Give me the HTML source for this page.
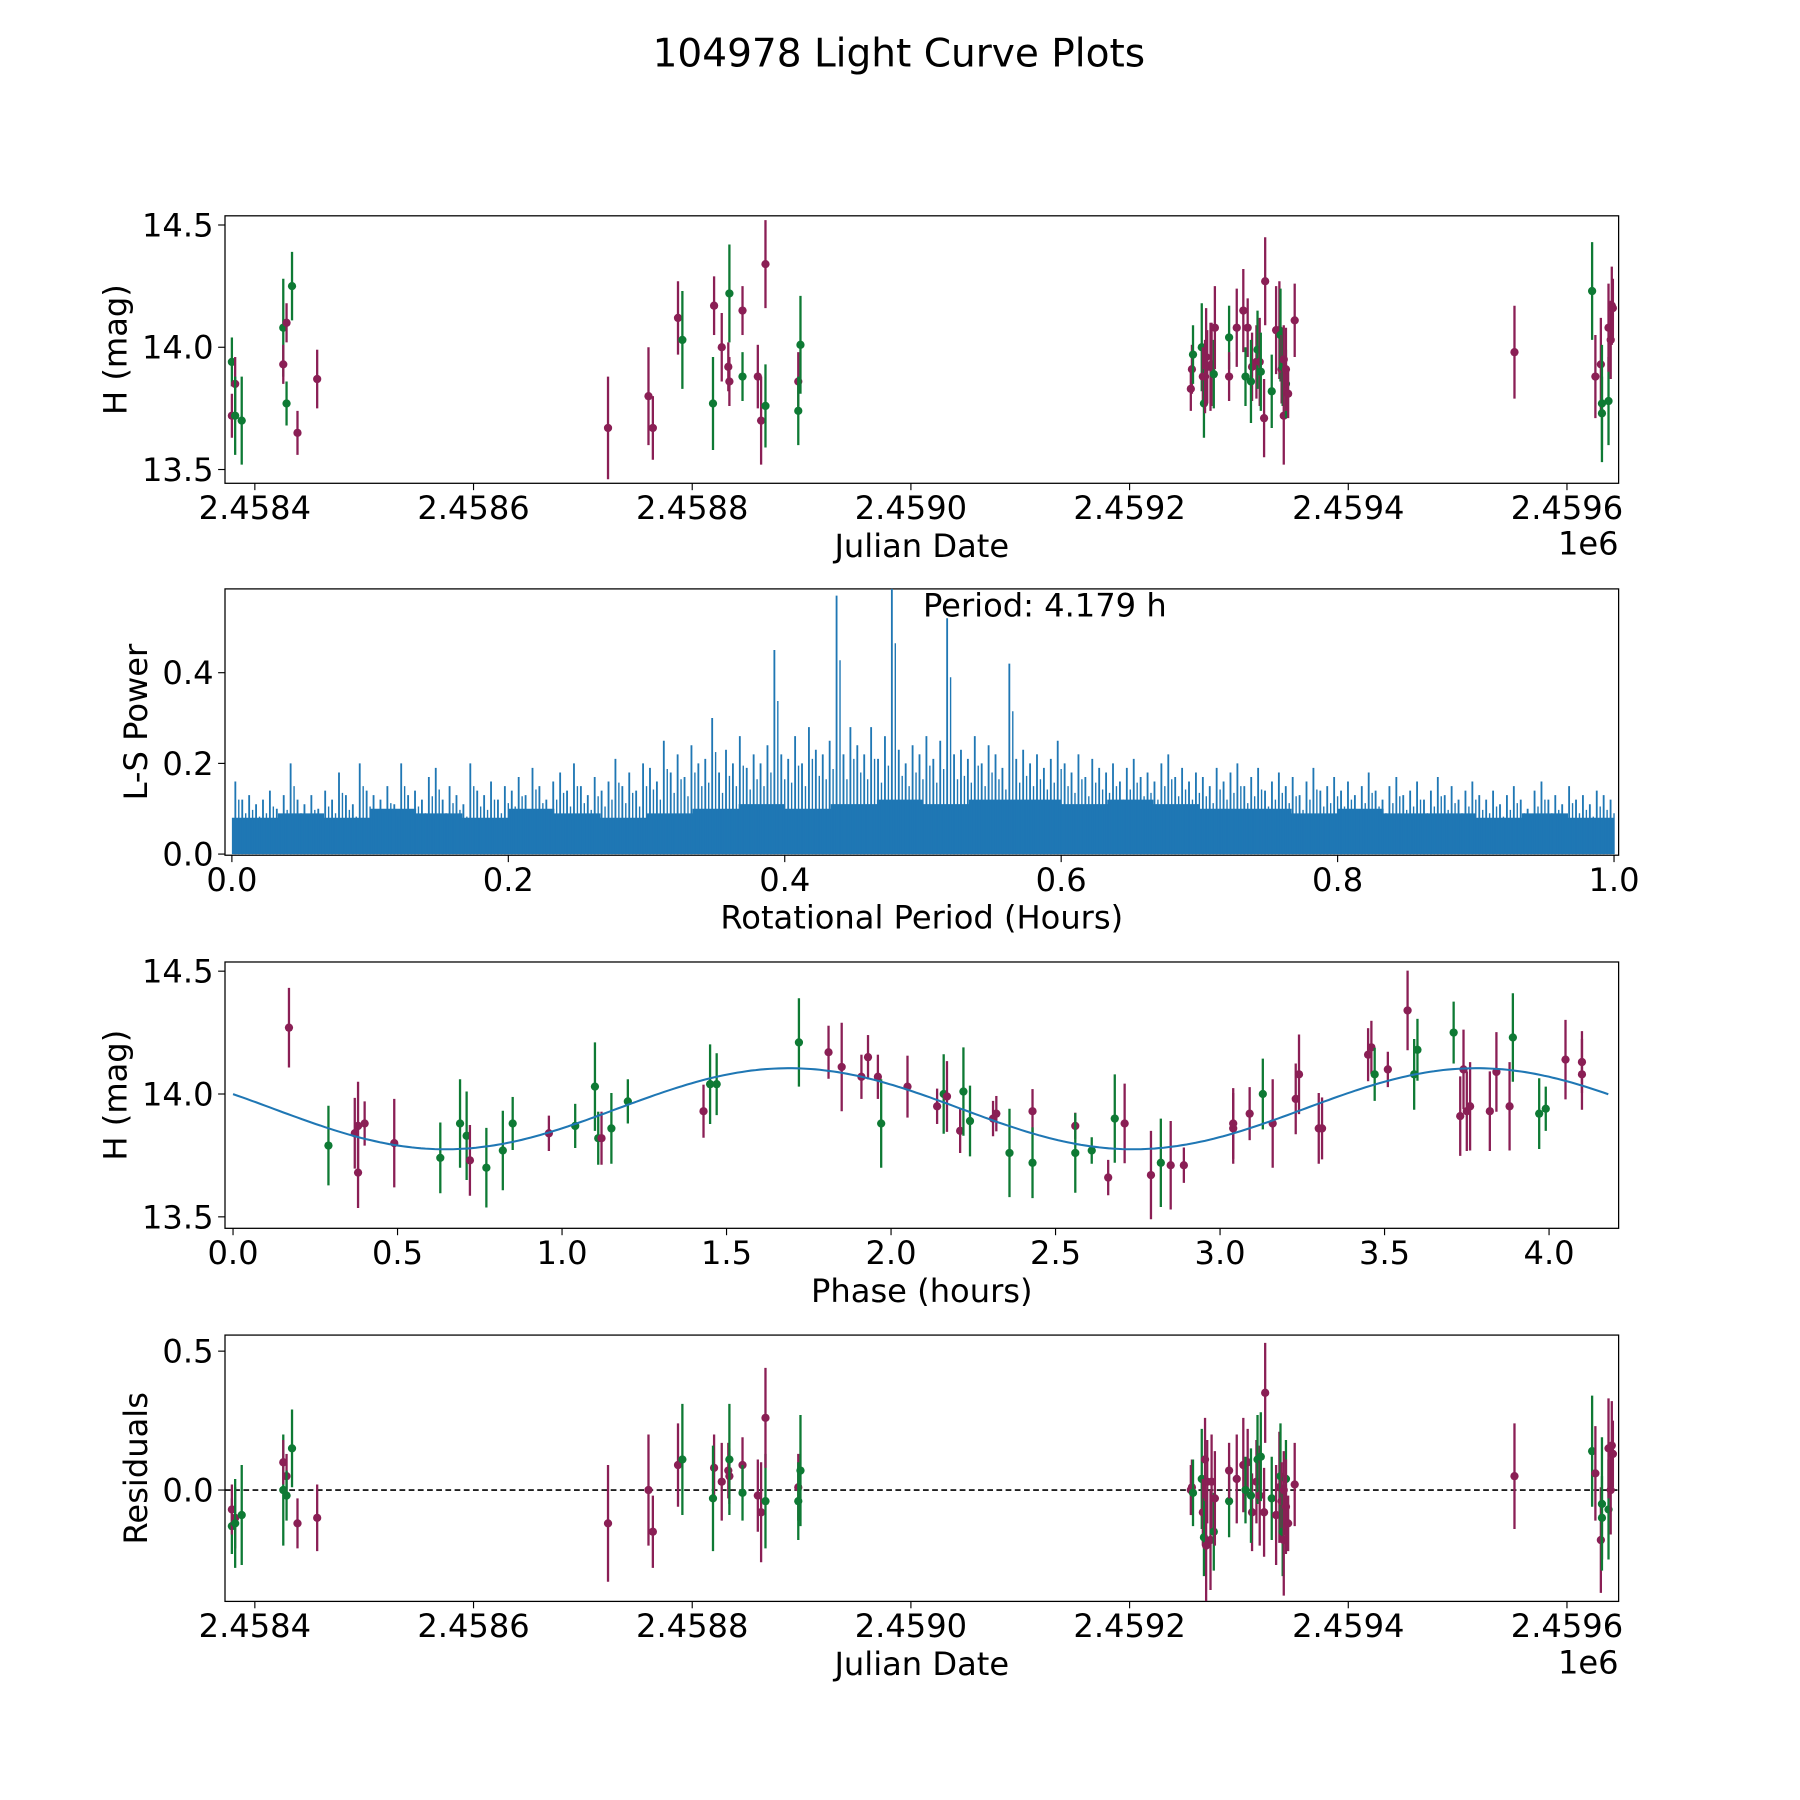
<!DOCTYPE html>
<html><head><meta charset="utf-8"><style>
html,body{margin:0;padding:0;background:#fff}
svg{display:block}
text{font-family:"DejaVu Sans","Liberation Sans",sans-serif;fill:#000}
</style></head><body>
<svg id="fig" width="1800" height="1800" viewBox="0 0 1568 1568" xmlns="http://www.w3.org/2000/svg">
<rect width="1568" height="1568" fill="#fff"/>
<text x="783" y="58" font-size="34" text-anchor="middle">104978 Light Curve Plots</text>
<g id="p1"></g>
<g id="p2"></g>
<g id="p3"></g>
<g id="p4"></g>
</svg>
<script>
// ---- light curve data (JD - 2458000) ----
const jd = [379,379,382,382,388,426,426,429,429,434,439,457,723,760,764,787,791,820,819,827,833,834,834,846,846,860,863,867,867,897,897,899,
1256,1257,1258,1266,1267,1268,1269,1270,1271,1274,1275,1277,1278,1291,1291,1298,1304,1308,1306,1312,1311,1316,1317,1319,1320,1323,1324,1330,1334,1337,1338,1339,1340,1341,1343,1343,1345,1351,1341,
1552,1623,1626,1631,1632,1632,1638,1638,1640,1641,1642];
const mag = [13.94,13.72,13.85,13.72,13.70,14.08,13.93,14.10,13.77,14.25,13.65,13.87,13.67,13.80,13.67,14.12,14.03,14.17,13.77,14.00,13.92,13.86,14.22,14.15,13.88,13.88,13.70,13.76,14.34,13.86,13.74,14.01,
13.83,13.91,13.97,14.00,13.88,13.77,13.88,13.96,13.92,13.92,13.93,13.89,14.08,14.04,13.88,14.08,14.15,14.08,13.88,13.92,13.86,13.94,13.99,13.94,13.90,13.71,14.27,13.82,14.07,14.07,14.05,13.91,13.92,13.72,13.85,13.91,13.81,14.11,13.95,
13.98,14.23,13.88,13.93,13.77,13.73,13.78,14.08,14.03,14.17,14.16];
const magErr = [0.10,0.09,0.11,0.16,0.18,0.20,0.08,0.08,0.09,0.14,0.09,0.12,0.21,0.20,0.13,0.15,0.20,0.12,0.19,0.14,0.10,0.10,0.20,0.10,0.10,0.13,0.18,0.17,0.18,0.12,0.14,0.20,
0.09,0.10,0.12,0.18,0.12,0.14,0.15,0.20,0.15,0.18,0.17,0.14,0.17,0.13,0.10,0.16,0.17,0.12,0.12,0.14,0.17,0.15,0.16,0.18,0.16,0.16,0.18,0.15,0.18,0.20,0.19,0.14,0.16,0.20,0.14,0.17,0.10,0.15,0.14,
0.19,0.20,0.17,0.19,0.24,0.15,0.18,0.18,0.16,0.16,0.12];
const filt = ['g','m','m','g','g','g','m','m','g','g','m','m','m','m','m','m','g','m','g','m','m','m','g','m','g','m','m','g','m','m','g','g',
'm','m','g','g','m','g','m','m','m','m','m','g','m','g','m','m','m','m','g','m','g','m','g','m','g','m','m','g','m','m','g','m','g','m','g','m','m','m','m',
'm','g','m','m','g','g','g','m','m','m','m'];
const resid = [-0.13,-0.07,-0.10,-0.12,-0.09,0.00,0.10,0.05,-0.02,0.15,-0.12,-0.10,-0.12,0.00,-0.15,0.09,0.11,0.08,-0.03,0.03,0.07,0.05,0.11,0.09,-0.01,-0.02,-0.08,-0.04,0.26,0.01,-0.04,0.07,
0.00,0.01,-0.01,0.04,-0.08,-0.17,0.11,-0.20,0.03,-0.18,0.03,-0.15,-0.03,-0.04,0.07,0.04,0.09,0.10,0.00,-0.08,-0.02,0.03,0.11,-0.02,0.12,-0.08,0.35,-0.03,-0.09,0.01,0.05,-0.04,-0.15,-0.18,0.04,-0.06,-0.12,0.02,0.00,
0.05,0.14,0.06,-0.18,-0.05,-0.10,-0.07,0.15,0.00,0.16,0.13];
// ---- periodogram ----
const power = [.16,.12,.13,.11,.12,.14,.10,.13,.20,.12,.11,.13,.10,.14,.12,.18,.13,.11,.20,.14,
.13,.12,.15,.11,.20,.13,.14,.12,.17,.19,.12,.15,.13,.11,.20,.14,.13,.16,.12,.15,
.14,.17,.13,.19,.15,.12,.16,.18,.14,.20,.15,.13,.17,.14,.16,.21,.15,.18,.14,.20,
.19,.16,.25,.18,.22,.17,.24,.20,.21,.30,.18,.23,.20,.26,.19,.22,.20,.24,.45,.22,
.21,.26,.20,.28,.23,.22,.25,.57,.22,.28,.24,.22,.28,.21,.26,.62,.23,.20,.24,.22,
.26,.21,.25,.52,.22,.23,.21,.26,.20,.24,.22,.19,.42,.21,.23,.20,.22,.19,.21,.25,
.20,.18,.22,.17,.21,.19,.18,.20,.16,.19,.21,.17,.18,.16,.20,.22,.17,.19,.16,.18,
.17,.15,.19,.16,.18,.20,.15,.17,.19,.14,.16,.18,.15,.17,.13,.16,.19,.14,.15,.17,
.14,.16,.13,.15,.18,.14,.12,.15,.17,.13,.14,.16,.12,.14,.17,.13,.15,.12,.14,.16,
.13,.12,.14,.11,.13,.15,.12,.10,.14,.16,.12,.13,.11,.15,.12,.13,.11,.14,.13,.12];
const powerFloor = [.08,.09,.08,.10,.09,.08,.10,.09,.08,.09,.10,.11,.10,.11,.12,.11,.12,.12,.11,.12,.11,.10,.10,.09,.10,.09,.09,.08,.09,.08];
const periodLabel = "Period: 4.179 h";
// ---- phase fold ----
const phase = [0.17,0.29,0.37,0.38,0.38,0.40,0.49,0.63,0.69,0.71,0.72,0.77,0.82,0.85,0.96,1.04,1.10,1.11,1.12,1.15,1.20,1.43,1.45,1.47,1.72,1.81,1.85,1.91,1.93,1.96,1.97,2.05,2.14,2.16,2.17,2.21,2.22,2.24,2.31,2.32,2.36,2.43,2.43,2.56,2.56,2.61,2.66,2.68,2.71,2.79,2.82,2.85,2.89,3.04,3.04,3.09,3.13,3.16,3.23,3.24,3.30,3.31,3.45,3.46,3.47,3.51,3.57,3.59,3.60,3.71,3.73,3.74,3.75,3.76,3.82,3.84,3.88,3.89,3.97,3.99,4.05,4.10,4.10];
const phaseMag = [14.27,13.79,13.84,13.87,13.68,13.88,13.80,13.74,13.88,13.83,13.73,13.70,13.77,13.88,13.84,13.87,14.03,13.82,13.82,13.86,13.97,13.93,14.04,14.04,14.21,14.17,14.11,14.07,14.15,14.07,13.88,14.03,13.95,14.00,13.99,13.85,14.01,13.89,13.90,13.92,13.76,13.93,13.72,13.87,13.76,13.77,13.66,13.90,13.88,13.67,13.72,13.71,13.71,13.86,13.88,13.92,14.00,13.88,13.98,14.08,13.86,13.86,14.16,14.19,14.08,14.10,14.34,14.08,14.18,14.25,13.91,14.10,13.93,13.95,13.93,14.09,13.95,14.23,13.92,13.94,14.14,14.08,14.13];
const phaseErr = [0.09,0.09,0.08,0.10,0.08,0.05,0.10,0.08,0.10,0.10,0.08,0.09,0.09,0.06,0.04,0.05,0.10,0.06,0.06,0.08,0.05,0.06,0.09,0.07,0.10,0.06,0.10,0.05,0.05,0.05,0.10,0.07,0.04,0.09,0.08,0.05,0.10,0.08,0.04,0.04,0.10,0.05,0.08,0.03,0.09,0.03,0.04,0.10,0.09,0.10,0.10,0.10,0.04,0.08,0.08,0.06,0.08,0.10,0.08,0.09,0.08,0.07,0.06,0.06,0.06,0.04,0.09,0.08,0.07,0.07,0.09,0.09,0.09,0.10,0.09,0.09,0.10,0.10,0.08,0.05,0.09,0.08,0.07].map(v=>v*1.8);
const phaseFilt = ['m','g','m','m','m','m','m','g','g','g','m','g','g','g','m','g','g','g','m','g','g','m','g','g','g','m','m','m','m','m','g','m','m','g','m','m','g','g','m','m','g','m','g','m','g','g','m','g','m','m','g','m','m','m','m','m','g','m','m','m','m','m','m','m','g','m','m','g','g','g','m','m','m','m','m','m','m','g','g','g','m','m','m'];
const modelParams = [13.94, 0.165, 1.69, 2.0895]; // mean, amplitude, peak phase, half-period
const jdTicks = [400,600,800,1000,1200,1400,1600];
const jdTickLabels = ["2.4584","2.4586","2.4588","2.4590","2.4592","2.4594","2.4596"];
const magTicks = [13.5,14.0,14.5];
const powTicks = [0.0,0.2,0.4];
const perTicks = [0,0.2,0.4,0.6,0.8,1.0];
const phaseTicks = [0,0.5,1,1.5,2,2.5,3,3.5,4];
const resTicks = [0.0,0.5];

const NS="http://www.w3.org/2000/svg";
const COL={m:'#8a1f55',g:'#0e7a34'};
const FS=28;
function mk(parent,tag,attrs){const e=document.createElementNS(NS,tag);for(const k in attrs)e.setAttribute(k,attrs[k]);parent.appendChild(e);return e;}
function lin(d0,d1,r0,r1){return v=>r0+(v-d0)*(r1-r0)/(d1-d0);}
const L=196,R=1410;
function frame(g,top,bot,xs,ys,xt,xtl,yt,ytl,xlabel,ylabel,ylx){
  const f=mk(g,'rect',{x:L,y:top,width:R-L,height:bot-top,fill:'none',stroke:'#000','stroke-width':1.1});
  
  
  xt.forEach((v,i)=>{const x=xs(v);
    const t=mk(g,'line',{x1:x,x2:x,y1:bot,y2:bot+6,stroke:'#000','stroke-width':1});
    
    
    const tx=mk(g,'text',{x:x,y:bot+31,'font-size':FS,'text-anchor':'middle'});tx.textContent=xtl[i];
    
    });
  yt.forEach((v,i)=>{const y=ys(v);
    const t=mk(g,'line',{x1:L-6,x2:L,y1:y,y2:y,stroke:'#000','stroke-width':1});
    
    
    const tx=mk(g,'text',{x:L-10,y:y+10,'font-size':FS,'text-anchor':'end'});tx.textContent=ytl[i];
    
    });
  const xl=mk(g,'text',{x:(L+R)/2,y:bot+64,'font-size':FS,'text-anchor':'middle'});xl.textContent=xlabel;
  
  
  const cy=(top+bot)/2;
  const yl=mk(g,'text',{x:ylx,y:cy,'font-size':FS,'text-anchor':'middle',transform:`rotate(-90 ${ylx} ${cy})`});yl.textContent=ylabel;
  
  
}
function errpts(g,xs,ys,xa,ya,ea,fa,top,bot){
  const cp='c'+Math.round(top);
  const cl=mk(g,'clipPath',{id:cp});mk(cl,'rect',{x:L,y:top,width:R-L,height:bot-top});
  const gg=mk(g,'g',{'clip-path':`url(#${cp})`});
  xa.forEach((xv,i)=>{const x=xs(xv),y=ys(ya[i]),c=COL[fa[i]];
    const b=mk(gg,'line',{x1:x,x2:x,y1:ys(ya[i]-ea[i]),y2:ys(ya[i]+ea[i]),stroke:c,'stroke-width':2});
    
    
    const p=mk(gg,'circle',{cx:x,cy:y,r:3.6,fill:c});
    
    });
  return gg;
}
// Panel 1
(function(){const g=document.getElementById('p1');const top=188,bot=421;
 const xs=lin(400,600,222,412.5), ys=lin(13.5,14.5,409,196);
 frame(g,top,bot,xs,ys,jdTicks,jdTickLabels,magTicks,magTicks.map(v=>v.toFixed(1)),'Julian Date','H (mag)',110);
 const e=mk(g,'text',{x:1410,y:483,'font-size':FS,'text-anchor':'end'});e.textContent='1e6';
 
 
 errpts(g,xs,ys,jd,mag,magErr,filt,top,bot);})();
// Panel 2
(function(){const g=document.getElementById('p2');const top=513,bot=745;
 const xs=lin(0,1,202,1406), ys=lin(0,0.2,744,665);
 frame(g,top,bot,xs,ys,perTicks,perTicks.map(v=>v.toFixed(1)),powTicks,powTicks.map(v=>v.toFixed(1)),'Rotational Period (Hours)','L-S Power',128);
 const cl=mk(g,'clipPath',{id:'c2'});mk(cl,'rect',{x:L,y:top,width:R-L,height:bot-top});
 const gg=mk(g,'g',{'clip-path':'url(#c2)'});
 const nf=powerFloor.length;let d='M'+xs(0)+' '+ys(0);
 powerFloor.forEach((v,i)=>{d+='L'+xs(i/nf).toFixed(1)+' '+ys(v).toFixed(1)+'L'+xs((i+1)/nf).toFixed(1)+' '+ys(v).toFixed(1);});
 d+='L'+xs(1)+' '+ys(0)+'Z';
 const fl=mk(gg,'path',{d:d,fill:'#1f77b4'});
 
 
 const n=power.length;
 power.forEach((v,i)=>{const x=xs((i+0.5)/n);
   const s=mk(gg,'line',{x1:x,x2:x,y1:ys(0),y2:ys(v),stroke:'#1f77b4','stroke-width':1.6});
   
   
   const s2=mk(gg,'line',{x1:x+3,x2:x+3,y1:ys(0),y2:ys(v*0.75),stroke:'#1f77b4','stroke-width':1.2});
   
   });
 const t=mk(g,'text',{x:804,y:537,'font-size':FS});t.textContent=periodLabel;
 
 })();
// Panel 3
(function(){const g=document.getElementById('p3');const top=838,bot=1070;
 const xs=lin(0,0.5,203,346.3), ys=lin(13.5,14.5,1060,846);
 frame(g,top,bot,xs,ys,phaseTicks,phaseTicks.map(v=>v.toFixed(1)),magTicks,magTicks.map(v=>v.toFixed(1)),'Phase (hours)','H (mag)',110);
 errpts(g,xs,ys,phase,phaseMag,phaseErr,phaseFilt,top,bot);
 const [m0,a,p0,P]=modelParams;let d='';
 for(let i=0;i<=300;i++){const ph=4.18*i/300;const v=m0+a*Math.cos(2*Math.PI*(ph-p0)/P);d+=(i?'L':'M')+xs(ph).toFixed(1)+' '+ys(v).toFixed(1);}
 const c=mk(g,'path',{d:d,fill:'none',stroke:'#1f77b4','stroke-width':1.8});
 
 })();
// Panel 4
(function(){const g=document.getElementById('p4');const top=1163,bot=1395;
 const xs=lin(400,600,222,412.5), ys=lin(0,0.5,1298,1177);
 frame(g,top,bot,xs,ys,jdTicks,jdTickLabels,resTicks,resTicks.map(v=>v.toFixed(1)),'Julian Date','Residuals',128);
 const e=mk(g,'text',{x:1410,y:1458,'font-size':FS,'text-anchor':'end'});e.textContent='1e6';
 
 
 const z=mk(g,'line',{x1:L,x2:R,y1:ys(0),y2:ys(0),stroke:'#000','stroke-width':1.4,'stroke-dasharray':'5,3'});
 
 
 errpts(g,xs,ys,jd,resid,magErr,filt,top,bot);})();
</script>
</body></html>
